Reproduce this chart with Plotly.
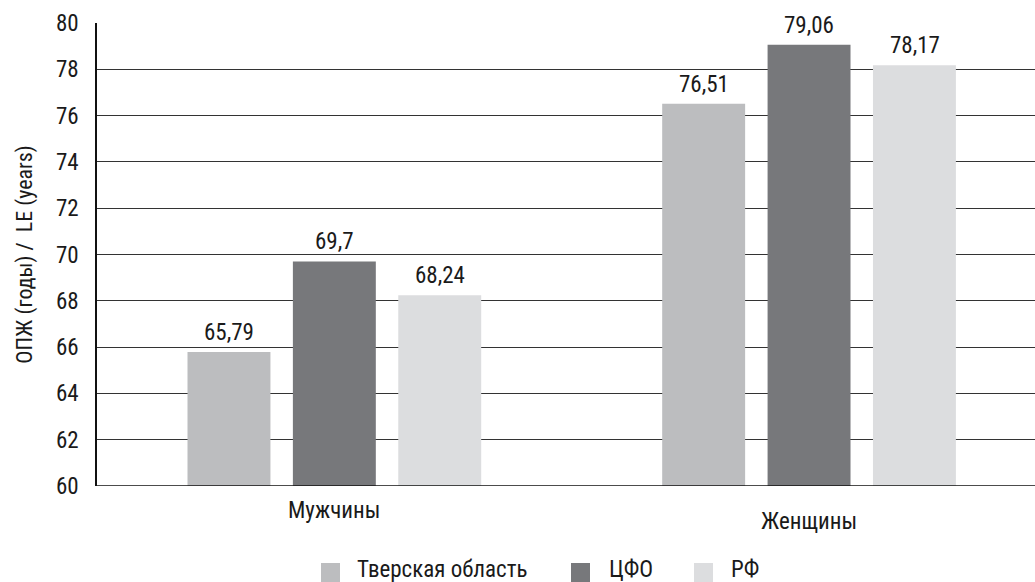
import plotly.graph_objects as go

categories = ["Мужчины", "Женщины"]
series_names = ["Тверская область", "ЦФО", "РФ"]
tver = [65.79, 76.51]
cfo = [69.7, 79.06]
rf = [68.24, 78.17]
colors = ["#bcbdbf", "#77787b", "#dcdddf"]
y_ticks = [60, 62, 64, 66, 68, 70, 72, 74, 76, 78, 80]

FONT = "Roboto Condensed, Arial Narrow, Roboto, sans-serif"
TXT = "#1a1a1a"
WT = 400

W, H = 1035, 582
ML, MR, MT, MB = 97, 0, 23, 96
PW, PH = W - ML - MR, H - MT - MB


def px(x):
    return (x - ML) / PW


def py(y):
    return (H - MB - y) / PH


def fnt(size):
    return dict(family=FONT, size=size, color=TXT, weight=WT)


fig = go.Figure()
all_series = [tver, cfo, rf]
for name, vals, col in zip(series_names, all_series, colors):
    fig.add_trace(go.Bar(
        x=categories, y=vals, name=name, showlegend=False,
        marker=dict(color=col, line=dict(width=0)),
    ))

annotations = []
for i, vals in enumerate(all_series):
    for cat, v in zip(categories, vals):
        annotations.append(dict(
            x=cat, y=v, xref="x", yref="y", text=str(v).replace(".", ","),
            showarrow=False, xshift=(i - 1) * 105.5, yanchor="bottom", yshift=4,
            font=fnt(23),
        ))

# category labels (staggered as in the original)
cat_y = [510, 521]
for cat, yy in zip(categories, cat_y):
    annotations.append(dict(
        x=cat, y=py(yy), xref="x", yref="paper", text=cat, showarrow=False,
        yanchor="middle", font=fnt(23),
    ))

# manual legend
shapes = [dict(type="line", xref="paper", yref="y", x0=0, x1=1, y0=60, y1=60,
               line=dict(color="#111", width=1.5))]
leg_sq_x = [321, 571, 694]
leg_txt_x = [355, 607, 729]
for name, col, sx, tx in zip(series_names, colors, leg_sq_x, leg_txt_x):
    shapes.append(dict(type="rect", xref="paper", yref="paper",
                       x0=px(sx), x1=px(sx + 19), y0=py(582), y1=py(563),
                       fillcolor=col, line=dict(width=0)))
    annotations.append(dict(x=px(tx), y=py(569), xref="paper", yref="paper",
                            xanchor="left", yanchor="middle", text=name, showarrow=False,
                            font=fnt(23)))

fig.update_layout(
    width=W, height=H,
    margin=dict(l=ML, r=MR, t=MT, b=MB),
    paper_bgcolor="white", plot_bgcolor="white",
    barmode="group", bargap=0.334, bargroupgap=0.213,
    font=fnt(23),
    showlegend=False,
    xaxis=dict(range=[-0.5, 1.476], showticklabels=False, showline=False,
               showgrid=False, zeroline=False, ticks=""),
    yaxis=dict(range=[60, 80], tickvals=y_ticks, showgrid=True, gridcolor="#333333",
               gridwidth=1, showline=True, linecolor="#111", linewidth=1.5,
               zeroline=False, ticks="", ticklabelstandoff=12,
               tickfont=fnt(23),
               title=dict(text="ОПЖ (годы) /  LE (years)", standoff=17,
                          font=fnt(22))),
    annotations=annotations,
    shapes=shapes,
)

fig.write_html("out.html")
